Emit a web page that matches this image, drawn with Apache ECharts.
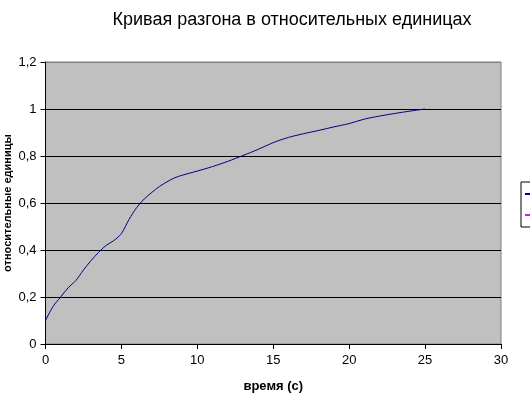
<!DOCTYPE html>
<html>
<head>
<meta charset="utf-8">
<script src="https://cdn.jsdelivr.net/npm/echarts@6/dist/echarts.min.js"></script>
<style>html,body{margin:0;padding:0;background:#fff;}#c{width:530px;height:396px;}</style>
</head>
<body>
<div id="c"></div>
<script>
var titleText = 'Кривая разгона в относительных единицах';
var xName = 'время (с)';
var yName = 'относительные единицы';
var seriesNames = ['Ряд1', 'Ряд2'];
var times = [0, 0.5, 1, 1.5, 2, 2.5, 3, 3.5, 4, 4.5, 5, 5.5, 6, 6.5, 7, 7.5, 8, 8.5, 9, 10, 11, 12, 13, 14, 15, 16, 17, 18, 19, 20, 21, 22, 23, 24, 25];
var values = [0.10, 0.16, 0.20, 0.24, 0.27, 0.315, 0.355, 0.39, 0.42, 0.44, 0.47, 0.53, 0.58, 0.617, 0.645, 0.67, 0.69, 0.707, 0.718, 0.736, 0.755, 0.777, 0.802, 0.828, 0.857, 0.879, 0.895, 0.909, 0.924, 0.938, 0.957, 0.970, 0.981, 0.991, 1.0];
var series2Values = [];

var chart = echarts.init(document.getElementById('c'), null, {renderer: 'canvas'});
var font = 'Liberation Sans, Arial, sans-serif';
chart.setOption({
  animation: false,
  backgroundColor: '#ffffff',
  title: {
    text: titleText,
    left: 287, top: 6, textAlign: 'center',
    textStyle: {fontFamily: font, fontSize: 18, fontWeight: 'normal', color: '#000'}
  },
  legend: {
    orient: 'vertical',
    left: 521, top: 182,
    padding: [6, 4, 6, 4],
    itemGap: 9,
    itemWidth: 8, itemHeight: 2,
    icon: 'rect',
    borderColor: '#000', borderWidth: 1,
    backgroundColor: '#fff',
    textStyle: {fontFamily: font, fontSize: 12, color: '#000'},
    data: seriesNames
  },
  grid: {
    left: 45.5, right: 29, top: 62, bottom: 52,
    outerBoundsMode: 'none', containLabel: false,
    show: true, backgroundColor: '#c0c0c0', borderColor: '#808080', borderWidth: 1
  },
  xAxis: {
    type: 'value', min: 0, max: 30, interval: 5,
    name: xName, nameLocation: 'middle', nameGap: 36, nameMoveOverlap: false,
    nameTextStyle: {fontFamily: font, fontSize: 13, fontWeight: 'bold', color: '#000'},
    axisLine: {show: true, lineStyle: {color: '#000', width: 1}},
    axisTick: {show: true, length: 5, lineStyle: {color: '#000'}},
    axisLabel: {fontFamily: font, fontSize: 13, color: '#000', margin: 10},
    splitLine: {show: false}
  },
  yAxis: {
    type: 'value', min: 0, max: 1.2, interval: 0.2,
    name: yName, nameLocation: 'middle', nameGap: 32, nameMoveOverlap: false,
    nameTextStyle: {fontFamily: font, fontSize: 11, fontWeight: 'bold', color: '#000'},
    axisLine: {show: true, lineStyle: {color: '#000', width: 1}},
    axisTick: {show: true, length: 5, lineStyle: {color: '#000'}},
    axisLabel: {fontFamily: font, fontSize: 13, color: '#000', margin: 9,
      formatter: function (v) { return (Math.round(v * 10) / 10).toString().replace('.', ','); }},
    splitLine: {show: true, lineStyle: {color: ['#000', '#000', '#000', '#000', '#000', '#000', '#808080'], width: 1}}
  },
  series: [
    {
      name: seriesNames[0], type: 'line', smooth: 0.3, showSymbol: false, symbol: 'none',
      data: times.map(function (t, i) { return [t, values[i]]; }),
      lineStyle: {color: '#000080', width: 1}, itemStyle: {color: '#000080'}
    },
    {
      name: seriesNames[1], type: 'line', showSymbol: false, symbol: 'none',
      data: series2Values,
      lineStyle: {color: '#ff00ff', width: 1}, itemStyle: {color: '#ff00ff'}
    }
  ]
});
</script>
</body>
</html>
